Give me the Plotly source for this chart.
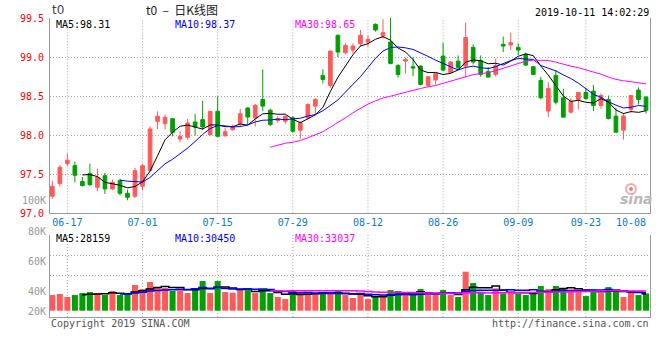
import plotly.graph_objects as go
import pandas as pd

# ---------------- data ----------------
DATES = ["06-13", "06-14",
         "06-17", "06-18", "06-19", "06-20", "06-21", "06-24", "06-25", "06-26", "06-27", "06-28",
         "07-01", "07-02", "07-03", "07-04", "07-05", "07-08", "07-09", "07-10", "07-11", "07-12",
         "07-15", "07-16", "07-17", "07-18", "07-19", "07-22", "07-23", "07-24", "07-25", "07-26",
         "07-29", "07-30", "07-31", "08-01", "08-02", "08-05", "08-06", "08-07", "08-08", "08-09",
         "08-12", "08-13", "08-14", "08-15", "08-16", "08-19", "08-20", "08-21", "08-22", "08-23",
         "08-26", "08-27", "08-28", "08-29", "08-30", "09-02", "09-03", "09-04", "09-05", "09-06",
         "09-09", "09-10", "09-11", "09-12", "09-16", "09-17", "09-18", "09-19", "09-20",
         "09-23", "09-24", "09-25", "09-26", "09-27", "09-30", "10-08", "10-09", "10-10"]

OPEN = [97.218, 97.380, 97.636, 97.610, 97.406, 97.508, 97.333, 97.482, 97.312, 97.418,
        97.256, 97.218, 97.346, 97.550, 98.177, 98.147, 98.211, 97.951, 97.973, 98.169,
        98.199, 98.007, 98.305, 97.994, 98.071, 98.147, 98.348, 98.220, 98.457, 98.320,
        98.188, 98.179, 98.222, 98.064, 98.222, 98.372, 98.765, 98.637, 99.278, 99.055,
        99.090, 99.171, 99.192, 99.419, 99.269, 99.192, 98.893, 98.948, 98.876, 98.885,
        98.637, 98.706, 99.013, 98.800, 98.948, 98.885, 99.124, 98.953, 98.816, 98.778,
        99.162, 99.154, 99.124, 99.034, 98.876, 98.701, 98.308, 98.765, 98.479, 98.295,
        98.457, 98.547, 98.564, 98.380, 98.457, 98.244, 98.064, 98.329, 98.577, 98.487]
HIGH = [97.418, 97.615, 97.764, 97.661, 97.465, 97.636, 97.572, 97.517, 97.431, 97.444,
        97.303, 97.580, 97.636, 98.113, 98.305, 98.262, 98.211, 98.049, 98.207, 98.275,
        98.442, 98.305, 98.497, 98.092, 98.135, 98.335, 98.356, 98.399, 98.842, 98.337,
        98.243, 98.252, 98.243, 98.179, 98.406, 98.474, 98.842, 99.077, 99.290, 99.175,
        99.175, 99.346, 99.278, 99.431, 99.483, 99.500, 98.906, 98.991, 99.000, 98.893,
        98.756, 98.800, 99.184, 98.948, 99.021, 99.440, 99.162, 99.021, 98.872, 98.979,
        99.261, 99.312, 99.175, 99.056, 98.885, 98.748, 98.679, 98.833, 98.594, 98.474,
        98.547, 98.607, 98.645, 98.534, 98.508, 98.350, 98.278, 98.508, 98.611, 98.500]
LOW = [97.184, 97.346, 97.602, 97.397, 97.342, 97.346, 97.282, 97.248, 97.303, 97.231,
       97.167, 97.197, 97.295, 97.538, 98.079, 98.071, 97.985, 97.909, 97.943, 97.994,
       98.071, 97.994, 97.977, 97.977, 98.058, 98.105, 98.135, 98.113, 98.307, 98.115,
       98.158, 98.145, 98.030, 97.953, 98.200, 98.265, 98.662, 98.607, 99.000, 99.034,
       99.047, 99.132, 99.132, 99.325, 99.235, 98.906, 98.735, 98.790, 98.756, 98.637,
       98.620, 98.650, 98.820, 98.790, 98.833, 98.740, 98.906, 98.748, 98.735, 98.748,
       99.064, 99.090, 99.026, 98.885, 98.769, 98.457, 98.231, 98.393, 98.231, 98.278,
       98.329, 98.449, 98.308, 98.338, 98.201, 98.038, 97.944, 98.286, 98.393, 98.278]
CLOSE = [97.346, 97.589, 97.679, 97.487, 97.355, 97.367, 97.461, 97.312, 97.397, 97.256,
         97.205, 97.546, 97.610, 98.079, 98.241, 98.228, 98.037, 97.985, 98.156, 98.105,
         98.105, 98.305, 97.985, 98.045, 98.105, 98.275, 98.233, 98.382, 98.372, 98.137,
         98.213, 98.243, 98.051, 98.158, 98.393, 98.457, 98.714, 99.077, 99.064, 99.149,
         99.141, 99.278, 99.226, 99.346, 99.312, 98.919, 98.777, 98.970, 98.859, 98.650,
         98.748, 98.791, 98.833, 98.936, 98.863, 99.250, 98.936, 98.778, 98.744, 98.893,
         99.141, 99.184, 99.090, 98.897, 98.778, 98.479, 98.598, 98.423, 98.231, 98.432,
         98.547, 98.470, 98.380, 98.508, 98.214, 98.038, 98.244, 98.508, 98.457, 98.320]
VOLUME = [26100, 27800, 22800, 26100, 29400, 31100, 29400, 26100, 32800, 26100,
          27800, 42800, 36100, 47800, 37800, 37800, 32800, 36100, 29400, 37800,
          49400, 29400, 49400, 31100, 30000, 36100, 34400, 29400, 36100, 29400,
          22800, 19400, 32800, 30600, 30600, 27800, 27800, 30600, 32800, 26100,
          21100, 26100, 19400, 23300, 26100, 34400, 32800, 27800, 27200, 36100,
          26100, 26100, 34400, 26100, 22800, 65000, 46100, 31700, 26100, 37200,
          28900, 30600, 27800, 26100, 29400, 41100, 36100, 41100, 37800, 35600,
          32800, 24400, 36100, 29400, 39400, 32800, 22800, 30600, 26100, 28900]

GRID_DATES = ["06-17", "07-01", "07-15", "07-29", "08-12", "08-26", "09-09", "09-23"]
TICK_DATES = GRID_DATES + ["10-08"]
PRICE_TICKS = [97.0, 97.5, 98.0, 98.5, 99.0, 99.5]
PRICE_TICK_TEXT = ["97.0", "97.5", "98.0", "98.5", "99.0", "99.5"]
VOL_LABELS = ["100K", "80K", "60K", "40K", "20K"]
PRICE_MA_TEXT = ["MA5:98.31", "MA10:98.37", "MA30:98.65"]
VOL_MA_TEXT = ["MA5:28159", "MA10:30450", "MA30:33037"]
MA_WINDOWS = [5, 10, 30]

# ---------------- style ----------------
RED = "#ff5a5a"
GREEN = "#00a000"
MA_COLORS = ["#000000", "#0000ff", "#ff00ff"]
GRID = "#aaaaaa"
AXIS = "#999999"
MONO = "DejaVu Sans Mono"
DOT = "1px,2px"

W, H = 660, 360
L, R, T, B = 50, 10, 18, 43
PW, PH = W - L - R, H - T - B


def px(x):
    return (x - L) / PW


def py(y):
    return (H - B - y) / PH


MAIN_DOM = [py(213.3), 1.0]
VOL_DOM = [0.0, py(235)]
VOL_SCALE = 0.0006  # px per lot
VOL_RANGE = [-(317 - 310.7) / VOL_SCALE, (310.7 - 235) / VOL_SCALE]
VOL_GRID = [(310.7 - 255.7) / VOL_SCALE, (310.7 - 275.7) / VOL_SCALE, VOL_RANGE[1]]

close_s = pd.Series(CLOSE)
vol_s = pd.Series(VOLUME)

fig = go.Figure()

fig.add_trace(go.Candlestick(
    x=DATES, open=OPEN, high=HIGH, low=LOW, close=CLOSE,
    increasing=dict(line=dict(color=RED, width=1), fillcolor=RED),
    decreasing=dict(line=dict(color=GREEN, width=1), fillcolor=GREEN),
    whiskerwidth=0, hoverinfo="skip", xaxis="x", yaxis="y"))

for w, c in zip(MA_WINDOWS, MA_COLORS):
    fig.add_trace(go.Scatter(x=DATES, y=close_s.rolling(w).mean(), mode="lines",
                             line=dict(color=c, width=1), hoverinfo="skip",
                             xaxis="x", yaxis="y"))

bar_colors = [RED if c >= o else GREEN for o, c in zip(OPEN, CLOSE)]
fig.add_trace(go.Bar(x=DATES, y=VOLUME, marker=dict(color=bar_colors, line=dict(width=0)),
                     hoverinfo="skip", xaxis="x2", yaxis="y2"))
for w, c in zip(MA_WINDOWS, MA_COLORS):
    fig.add_trace(go.Scatter(x=DATES, y=vol_s.rolling(w).mean(), mode="lines",
                             line=dict(color=c, width=1.5, shape="hvh"), hoverinfo="skip",
                             xaxis="x2", yaxis="y2"))

# vertical dotted grid lines
for d in GRID_DATES:
    i = DATES.index(d)
    for yr in ["y domain", "y2 domain"]:
        fig.add_shape(type="line", xref="x", yref=yr, x0=i, x1=i, y0=0, y1=1,
                      line=dict(color=GRID, width=1, dash=DOT), layer="below")

xr = [-0.31, len(DATES) - 1 + 0.53]
fig.update_layout(
    width=W, height=H, margin=dict(l=L, r=R, t=T, b=B),
    paper_bgcolor="white", plot_bgcolor="white", showlegend=False,
    bargap=0.2, boxgap=0.3,
    xaxis=dict(type="category", categoryorder="array", categoryarray=DATES,
               range=xr, domain=[0, 1], anchor="y",
               rangeslider=dict(visible=False), showgrid=False,
               showline=True, linecolor=AXIS, linewidth=1, mirror=False,
               tickmode="array", tickvals=TICK_DATES, ticktext=TICK_DATES,
               ticks="", tickfont=dict(family=MONO, size=10, color="#0a7ad0")),
    yaxis=dict(domain=MAIN_DOM, range=[97.0, 99.5], anchor="x",
               tickmode="array", tickvals=PRICE_TICKS, ticktext=PRICE_TICK_TEXT,
               ticks="outside", ticklen=3, tickcolor="rgba(0,0,0,0)",
               tickfont=dict(family=MONO, size=10, color="#ff0000"),
               showgrid=True, gridcolor=GRID, griddash=DOT, gridwidth=1,
               showline=True, linecolor=AXIS, linewidth=1, mirror=True, zeroline=False),
    xaxis2=dict(type="category", categoryorder="array", categoryarray=DATES,
                matches="x", range=xr, anchor="y2", showgrid=False,
                showline=True, linecolor=AXIS, linewidth=1, mirror=False,
                showticklabels=False, ticks=""),
    yaxis2=dict(domain=VOL_DOM, range=VOL_RANGE, anchor="x2",
                tickmode="array", tickvals=VOL_GRID, showticklabels=False, ticks="",
                showgrid=True, gridcolor=GRID, griddash=DOT, gridwidth=1,
                showline=True, linecolor=AXIS, linewidth=1, mirror=True, zeroline=False),
)


def txt(s, x, y, color, xanchor="left", size=10, family=MONO):
    fig.add_annotation(text=s, x=px(x), y=py(y), xref="paper", yref="paper",
                       xanchor=xanchor, yanchor="middle", showarrow=False, borderpad=0,
                       font=dict(family=family, size=size, color=color))


NB = "\u00a0"
# header
txt("t0", 51, 10.5, "#444444", size=12, family="DejaVu Sans")
txt("t0" + NB * 2 + "–" + NB * 2 + "日K线图", 182, 9.5, "#222222", xanchor="center",
    size=12, family="Noto Sans CJK SC")
txt("2019-10-11 14:02:29", 649.5, 12, "#000000", xanchor="right")

# MA labels
for s, x, c in zip(PRICE_MA_TEXT, [55, 174, 294], MA_COLORS):
    txt(s, x, 24.5, c)
for s, x, c in zip(VOL_MA_TEXT, [55, 174, 294], MA_COLORS):
    txt(s, x, 238.5, c)

# volume axis labels (as drawn in the original)
for s, y in zip(VOL_LABELS, [200, 231, 261, 291, 311]):
    txt(s, 46.5, y, "#999999", xanchor="right")

# footer
txt("Copyright 2019 SINA.COM", 50, 323.5, "#555555")
txt("http://finance.sina.com.cn", 649.5, 323.5, "#555555", xanchor="right")

# sina watermark
txt("<b><i>sina</i></b>", 636, 199, "#b8b8b8", xanchor="center", size=14, family="DejaVu Sans")
fig.add_shape(type="circle", xref="paper", yref="paper",
              x0=px(626), x1=px(636), y0=py(194), y1=py(184),
              line=dict(color="#f6a8a8", width=2), fillcolor="rgba(0,0,0,0)")
fig.add_shape(type="circle", xref="paper", yref="paper",
              x0=px(629.5), x1=px(632.5), y0=py(190.5), y1=py(187.5),
              line=dict(color="#f08080", width=1), fillcolor="#f08080")

fig.write_html("out.html", config={"displayModeBar": False},
               post_script="document.body.style.margin='0';")
